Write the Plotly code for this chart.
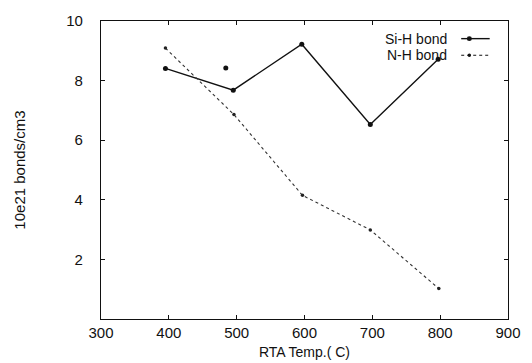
import plotly.graph_objects as go

temps_sih = [395, 495, 596, 697, 797]
sih_values = [8.41, 7.68, 9.22, 6.53, 8.72]
temps_nh = [395, 496, 597, 697, 798]
nh_values = [9.09, 6.86, 4.15, 2.99, 1.02]
stray_x = [484]
stray_y = [8.42]
x_ticks = [300, 400, 500, 600, 700, 800, 900]
y_ticks = [2, 4, 6, 8, 10]

FONT = "Liberation Sans, Arial, Helvetica, sans-serif"
PLOT_H = 363 - 15 - 44
PLOT_W = 532 - 101 - 24

fig = go.Figure()
fig.add_trace(go.Scatter(
    x=temps_sih, y=sih_values, mode="lines+markers", name="Si-H bond",
    line=dict(color="#111111", width=1.4),
    marker=dict(color="#111111", size=5), showlegend=False))
fig.add_trace(go.Scatter(
    x=temps_nh, y=nh_values, mode="lines+markers", name="N-H bond",
    line=dict(color="#333333", width=1.1, dash="dot"),
    marker=dict(color="#222222", size=3.5), showlegend=False))
fig.add_trace(go.Scatter(
    x=stray_x, y=stray_y, mode="markers",
    marker=dict(color="#111111", size=5), showlegend=False, hoverinfo="skip"))

axis_common = dict(
    showgrid=False, zeroline=False, showline=True, linecolor="#111111",
    linewidth=1.3, mirror="allticks", ticks="inside", ticklen=4,
    tickcolor="#111111", tickfont=dict(family=FONT, size=15, color="#111111"))

fig.update_xaxes(range=[300, 900], tickvals=x_ticks, ticklabelstandoff=0,
                 automargin=False, **axis_common)
fig.update_yaxes(range=[0, 10], tickvals=y_ticks, ticklabelstandoff=14,
                 **axis_common,
                 title=dict(text="10e21 bonds/cm3", standoff=36,
                            font=dict(family=FONT, size=15, color="#111111")))

# x-axis title placed just under the tick labels, as in the original
fig.add_annotation(x=0.5, y=-34 / PLOT_H, xref="paper", yref="paper",
                   text="RTA Temp.( C)", showarrow=False,
                   xanchor="center", yanchor="middle",
                   font=dict(family=FONT, size=14, color="#111111"))

# gnuplot-style legend: text right-aligned with sample line to its right
legend_items = [("Si-H bond", "solid", 5, 1.4), ("N-H bond", "dot", 3.5, 1.1)]
leg_text_x = 0.855
leg_y = [1 - 18 / PLOT_H, 1 - 35 / PLOT_H]
for (label, dash, msize, lw), yy in zip(legend_items, leg_y):
    fig.add_annotation(x=leg_text_x, y=yy, xref="paper", yref="paper",
                       text=label, showarrow=False, xanchor="right",
                       yanchor="middle",
                       font=dict(family=FONT, size=14, color="#111111"))
    fig.add_shape(type="line", xref="paper", yref="paper",
                  x0=0.885, x1=0.955, y0=yy, y1=yy,
                  line=dict(color="#111111", width=lw, dash=dash))
    r = msize / 2.0
    fig.add_shape(type="circle", xref="paper", yref="paper",
                  x0=0.905 - r / PLOT_W, x1=0.905 + r / PLOT_W,
                  y0=yy - r / PLOT_H, y1=yy + r / PLOT_H,
                  fillcolor="#111111", line=dict(width=0))

fig.update_layout(
    width=532, height=363,
    margin=dict(l=101, r=24, t=15, b=44),
    paper_bgcolor="white", plot_bgcolor="white",
    font=dict(family=FONT, color="#111111"),
    showlegend=False)

fig.write_html("out.html")
